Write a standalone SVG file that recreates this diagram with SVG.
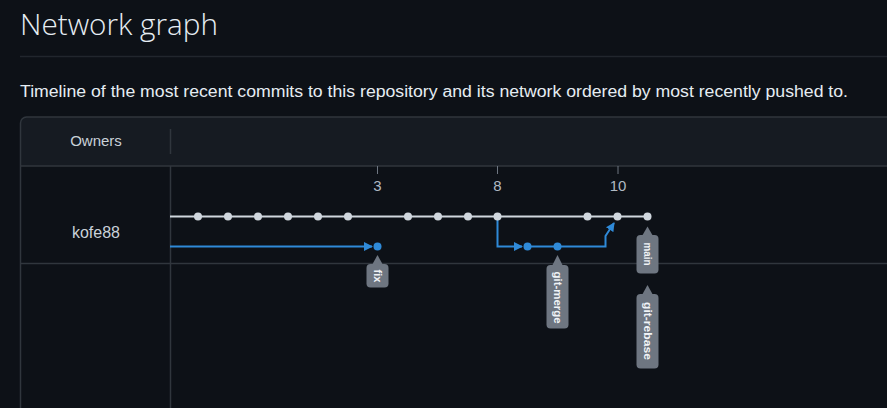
<svg xmlns="http://www.w3.org/2000/svg" width="887" height="408" viewBox="0 0 887 408">
<defs>
<style>
.sans{font-family:"Liberation Sans",Arial,sans-serif}
.title{font-family:"Open Sans","Liberation Sans",sans-serif;font-weight:300;font-size:29px;fill:#e6edf3}
.sub{font-size:16px;fill:#e6edf3}
.owner{font-size:15px;fill:#c9d1d9;text-anchor:middle}
.date{font-size:15px;fill:#b1bac4;text-anchor:middle}
.tick{stroke:#6e7681;stroke-width:1}
.grey{stroke:#d0d7de;stroke-width:2;fill:none}
.blue{stroke:#2f8ad8;stroke-width:2;fill:none}
.gdot{fill:#d0d7de}
.bdot{fill:#2f8ad8}
.pill{fill:#6e7681}
.ptext{font-size:11px;font-weight:bold;fill:#f0f3f6;text-anchor:middle;dominant-baseline:central}
.border{stroke:#30363d;stroke-width:1.5;fill:none}
</style>
<marker id="arr" markerUnits="userSpaceOnUse" markerWidth="9" markerHeight="9" refX="8" refY="4.5" orient="auto" viewBox="0 0 9 9">
<path d="M0,0 L9,4.5 L0,9 z" fill="#2f8ad8"/>
</marker>
</defs>
<rect x="0" y="0" width="887" height="408" fill="#0d1117"/>
<g id="header" class="sans">
<text x="20" y="35" class="title" textLength="198" lengthAdjust="spacingAndGlyphs">Network graph</text>
<line x1="20" y1="56.5" x2="887" y2="56.5" stroke="#21262d" stroke-width="1.5"/>
<text x="20" y="97" class="sub" textLength="828" lengthAdjust="spacingAndGlyphs">Timeline of the most recent commits to this repository and its network ordered by most recently pushed to.</text>
</g>
<g id="panel">
<path d="M20.5,166 V123 a6,6 0 0 1 6,-6 H887 V166 Z" fill="#161b22"/>
<path class="border" d="M20.5,408 V123 a6,6 0 0 1 6,-6 H887"/>
<line class="border" x1="20" y1="166" x2="887" y2="166"/>
<line class="border" x1="20" y1="263.5" x2="887" y2="263.5" stroke="#21262d"/>
<line x1="170.5" y1="129" x2="170.5" y2="154" stroke="#30363d" stroke-width="1.5"/>
<line x1="170.5" y1="166" x2="170.5" y2="408" stroke="#30363d" stroke-width="1.5"/>
<text x="96" y="146" class="sans owner">Owners</text>
<text x="96" y="238" class="sans owner" style="font-size:16px">kofe88</text>
</g>
<g id="dates" class="sans">
<line class="tick" x1="377.5" y1="166" x2="377.5" y2="174"/>
<line class="tick" x1="497.5" y1="166" x2="497.5" y2="174"/>
<line class="tick" x1="618" y1="166" x2="618" y2="174"/>
<text x="377.5" y="191" class="date">3</text>
<text x="497.5" y="191" class="date">8</text>
<text x="618" y="191" class="date">10</text>
</g>
<g id="connectors">
<line class="grey" x1="170" y1="216.5" x2="648" y2="216.5"/>
<line class="blue" x1="170" y1="246.5" x2="372" y2="246.5" marker-end="url(#arr)"/>
<polyline class="blue" points="497.5,216.5 497.5,246.5 522,246.5" marker-end="url(#arr)"/>
<line class="blue" x1="527.5" y1="246.5" x2="557.5" y2="246.5"/>
<polyline class="blue" points="557.5,246.5 605.5,246.5 605.5,236 614,223" marker-end="url(#arr)"/>
</g>
<g id="commits-main">
<circle class="gdot" cx="198" cy="216.5" r="4"/>
<circle class="gdot" cx="228" cy="216.5" r="4"/>
<circle class="gdot" cx="258" cy="216.5" r="4"/>
<circle class="gdot" cx="288" cy="216.5" r="4"/>
<circle class="gdot" cx="318" cy="216.5" r="4"/>
<circle class="gdot" cx="348" cy="216.5" r="4"/>
<circle class="gdot" cx="408" cy="216.5" r="4"/>
<circle class="gdot" cx="438" cy="216.5" r="4"/>
<circle class="gdot" cx="468" cy="216.5" r="4"/>
<circle class="gdot" cx="497.5" cy="216.5" r="4"/>
<circle class="gdot" cx="587.5" cy="216.5" r="4"/>
<circle class="gdot" cx="617.5" cy="216.5" r="4"/>
<circle class="gdot" cx="647.5" cy="216.5" r="4"/>
</g>
<g id="commits-branches">
<circle class="bdot" cx="377.5" cy="246.5" r="4"/>
<circle class="bdot" cx="527.5" cy="246.5" r="4"/>
<circle class="bdot" cx="557.5" cy="246.5" r="4"/>
</g>
<g id="label-fix" class="sans">
<path class="pill" d="M377.5,255 L383,265 L372,265 Z"/>
<rect class="pill" x="366.5" y="264" width="22" height="23.5" rx="4"/>
<text class="ptext" transform="translate(377.5,276) rotate(90)">fix</text>
</g>
<g id="label-git-merge" class="sans">
<path class="pill" d="M557.5,255 L563,266 L552,266 Z"/>
<rect class="pill" x="546.5" y="265" width="22" height="63.5" rx="4"/>
<text class="ptext" transform="translate(557.5,297.5) rotate(90)" textLength="52" lengthAdjust="spacingAndGlyphs">git-merge</text>
</g>
<g id="label-main" class="sans">
<path class="pill" d="M647.5,226.5 L653,236 L642,236 Z"/>
<rect class="pill" x="636.5" y="235" width="22" height="38.5" rx="4"/>
<text class="ptext" transform="translate(647.5,254) rotate(90)" textLength="23" lengthAdjust="spacingAndGlyphs">main</text>
</g>
<g id="label-git-rebase" class="sans">
<path class="pill" d="M647.5,285 L653,295 L642,295 Z"/>
<rect class="pill" x="636.5" y="294" width="22" height="74.5" rx="4"/>
<text class="ptext" transform="translate(647.5,331) rotate(90)" textLength="58" lengthAdjust="spacingAndGlyphs">git-rebase</text>
</g>
</svg>
